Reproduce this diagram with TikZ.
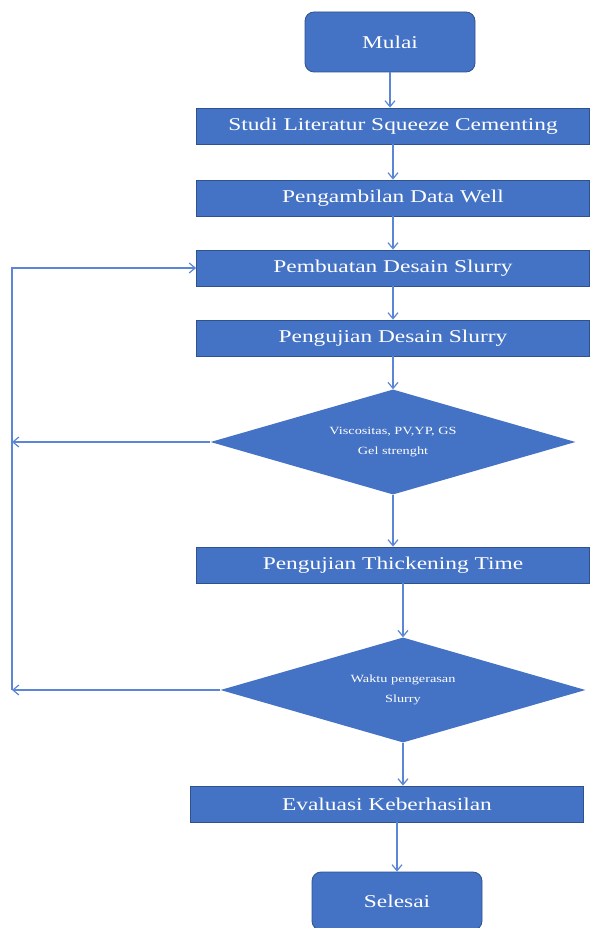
\documentclass[tikz,border=0pt]{standalone}
\usepackage{fontspec}
\setmainfont{Liberation Serif}
\newfontfamily\widefont{Liberation Serif}[FakeStretch=1.3]
\usetikzlibrary{shapes.geometric,arrows.meta}

\definecolor{boxblue}{HTML}{4472C4}
\definecolor{edgeblue}{HTML}{2F528F}
\definecolor{lineblue}{HTML}{5B86D6}

\tikzset{
  stepbox/.style={draw=edgeblue,fill=boxblue,text=white,line width=.8pt,
    minimum width=393pt,minimum height=36pt,font=\widefont\fontsize{18}{20}\selectfont},
  endbox/.style={stepbox,rounded corners=9pt,minimum width=170pt,minimum height=60pt},
  testbox/.style={diamond,aspect=3.5,fill=boxblue,text=white,inner sep=0pt,
    minimum width=365pt,minimum height=105pt,align=center,
    font=\widefont\fontsize{11}{20}\selectfont},
  flow/.style={lineblue,line width=1.2pt,-{Straight Barb[length=6pt,width=10pt]}}
}

\begin{document}
\begin{tikzpicture}[x=1pt,y=-1pt]
\useasboundingbox (0,0) rectangle (597,928);

\node (ml) [endbox] at (390,42) {Mulai};
\node (sl) [stepbox] at (393,126) {Studi Literatur Squeeze Cementing};
\node (pd) [stepbox] at (393,198) {Pengambilan Data Well};
\node (bd) [stepbox] at (393,268) {Pembuatan Desain Slurry};
\node (ud) [stepbox] at (393,338) {Pengujian Desain Slurry};
\node (vs) [testbox] at (393,442) {Viscositas, PV,YP, GS\\Gel strenght};
\node (tt) [stepbox] at (393,565) {Pengujian Thickening Time};
\node (wp) [testbox] at (403,690) {Waktu pengerasan\\Slurry};
\node (ev) [stepbox] at (387,804) {Evaluasi Keberhasilan};
\node (se) [endbox,minimum height=58pt] at (397,901) {Selesai};

% main line
\draw[flow] (ml) -- (ml |- sl.north);
\draw[flow] (sl) -- (sl |- pd.north);
\draw[flow] (pd) -- (pd |- bd.north);
\draw[flow] (bd) -- (bd |- ud.north);
\draw[flow] (ud) -- (vs);
\draw[flow] (vs) -- (vs |- tt.north);
\draw[flow] (tt.south -| wp) -- (wp);
\draw[flow] (wp) -- (wp |- ev.north);
\draw[flow] (ev.south -| se) -- (se);

% back loop
\coordinate (lp) at (12,0);
\draw[flow] (vs.west) -- (vs.west -| lp);
\draw[flow] (wp.west) -- (wp.west -| lp);
\draw[flow] (wp.west -| lp) -- (bd.west -| lp) -- (bd.west);
\end{tikzpicture}
\end{document}
